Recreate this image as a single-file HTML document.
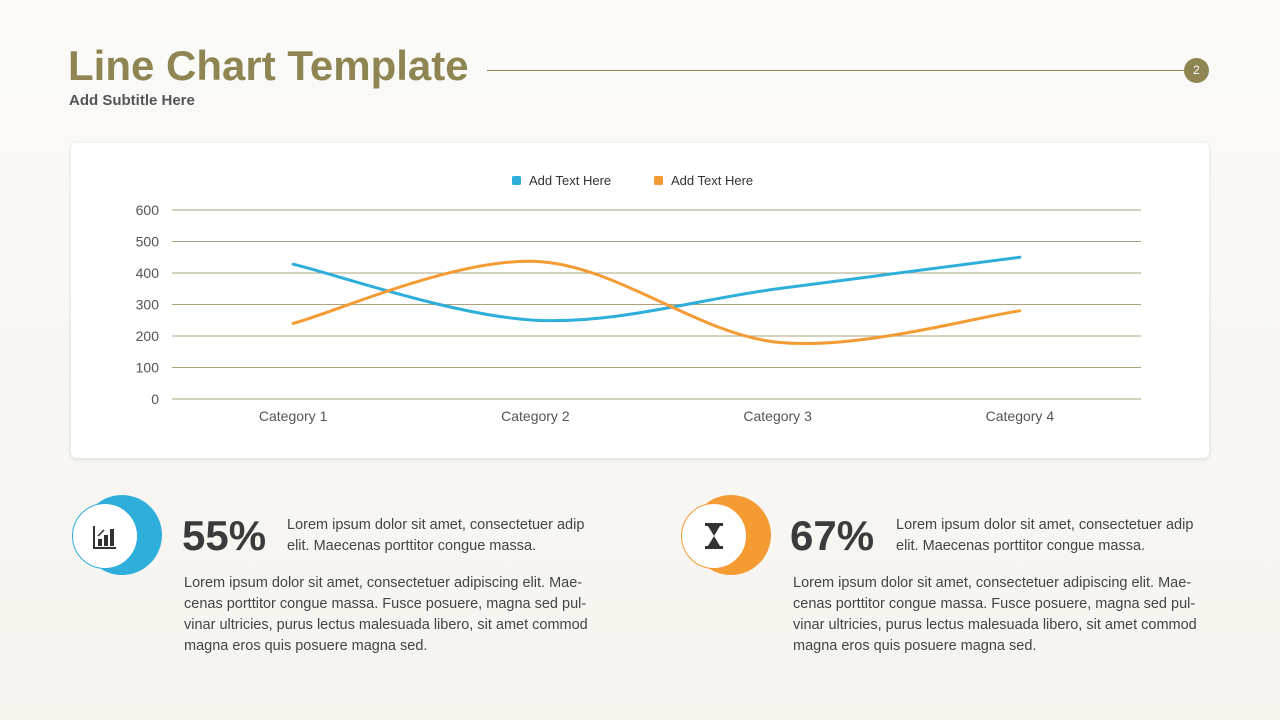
<!DOCTYPE html>
<html><head><meta charset="utf-8"><style>
body{margin:0;width:1280px;height:720px;background:linear-gradient(#fbfaf8,#f6f4ef);font-family:"Liberation Sans",sans-serif;position:relative;overflow:hidden}
.abs{position:absolute}
.title{left:68px;top:42px;font-size:42px;font-weight:bold;color:#8e8553;letter-spacing:0}
.sub{left:69px;top:92px;font-size:15px;font-weight:bold;color:#555}
.card{left:71px;top:143px;width:1138px;height:315px;background:#fff;border-radius:6px;box-shadow:0 1px 4px rgba(0,0,0,0.12)}
.pct{font-size:42px;font-weight:bold;color:#3b3b3b}
.t{font-size:14.5px;color:#444;line-height:21px}
</style></head><body>
<div class="abs title">Line Chart Template</div>
<div class="abs sub">Add Subtitle Here</div>
<div class="abs" style="left:487px;top:70px;width:700px;height:1px;background:#8e8553"></div>
<div class="abs" style="left:1184px;top:58px;width:25px;height:25px;border-radius:50%;background:#8e8553;color:#fff;font-size:12px;text-align:center;line-height:25px">2</div>
<div class="abs card"></div>
<svg class="abs" style="left:0;top:0" width="1280" height="720" id="chart">
<g font-size="13" fill="#333">
<rect x="512" y="176" width="9" height="9" rx="1.5" fill="#2eaedb"/>
<text x="529" y="185">Add Text Here</text>
<rect x="654" y="176" width="9" height="9" rx="1.5" fill="#f59b33"/>
<text x="671" y="185">Add Text Here</text>
</g>
</svg>
<script>
const categories=["Category 1","Category 2","Category 3","Category 4"];
const seriesA=[428,250,350,450];
const seriesB=[240,437,180,280];
const yTicks=[0,100,200,300,400,500,600];
const svg=document.getElementById('chart');const NS='http://www.w3.org/2000/svg';
const x0=172,x1=1141,y0=399,y1=210;
const yS=v=>y0-(v/600)*(y0-y1);
const xS=i=>x0+(x1-x0)/4*(i+0.5);
function mk(t,a){const e=document.createElementNS(NS,t);for(const k in a)e.setAttribute(k,a[k]);svg.appendChild(e);return e;}
yTicks.forEach(v=>{
 const l=mk('line',{x1:x0,x2:x1,y1:yS(v),y2:yS(v),stroke:'#8e8553','stroke-width':0.8});
 
 
 const t=mk('text',{x:159,y:yS(v)+5,'text-anchor':'end','font-size':14,fill:'#555'});t.textContent=v;
 
 
});
categories.forEach((c,i)=>{
 const t=mk('text',{x:xS(i),y:421,'text-anchor':'middle','font-size':14,fill:'#555'});t.textContent=c;
 
 
});
function path(vals){const p=vals.map((v,i)=>[xS(i),yS(v)]);let d='M'+p[0];const k=1/6;
 for(let i=0;i<p.length-1;i++){const a=p[i-1]||p[i],b=p[i],c=p[i+1],e=p[i+2]||c;
  d+=` C${b[0]+(c[0]-a[0])*k},${b[1]+(c[1]-a[1])*k} ${c[0]-(e[0]-b[0])*k},${c[1]-(e[1]-b[1])*k} ${c[0]},${c[1]}`;}return d;}
const pa=mk('path',{d:path(seriesA),fill:'none',stroke:'#2eaedb','stroke-width':3,'stroke-linecap':'round'});


const pb=mk('path',{d:path(seriesB),fill:'none',stroke:'#f59b33','stroke-width':3,'stroke-linecap':'round'});


</script>
<div class="abs" style="left:82px;top:495px;width:80px;height:80px;border-radius:50%;background:#2eaedb"></div>
<div class="abs" style="left:72px;top:503px;width:64px;height:64px;border-radius:50%;background:#fff;border:1px solid #2eaedb;text-align:center;line-height:64px;font-size:24px;color:#333">
<svg width="26" height="26" viewBox="0 0 26 26" style="vertical-align:middle"><path d="M2 2V24H24" stroke="#333" stroke-width="2" fill="none"/><rect x="6" y="15" width="4" height="7" fill="#333"/><rect x="12" y="11" width="4" height="11" fill="#333"/><rect x="18" y="5" width="4" height="17" fill="#333"/><path d="M6 12L12 6" stroke="#333" stroke-width="1.5"/></svg></div>
<div class="abs pct" style="left:182px;top:512px">55%</div>
<div class="abs t" style="left:287px;top:515px;width:320px">Lorem ipsum dolor sit amet, consectetuer adip elit. Maecenas porttitor congue massa.</div>
<div class="abs t" style="left:184px;top:573px;width:420px">Lorem ipsum dolor sit amet, consectetuer adipiscing elit. Mae-cenas porttitor congue massa. Fusce posuere, magna sed pul-vinar ultricies, purus lectus malesuada libero, sit amet commod magna eros quis posuere magna sed.</div>
<div class="abs" style="left:691px;top:495px;width:80px;height:80px;border-radius:50%;background:#f59b33"></div>
<div class="abs" style="left:681px;top:503px;width:64px;height:64px;border-radius:50%;background:#fff;border:1px solid #f59b33;text-align:center;line-height:64px">
<svg width="22" height="28" viewBox="0 0 22 28" style="vertical-align:middle"><rect x="2" y="1" width="18" height="3" fill="#333"/><rect x="2" y="24" width="18" height="3" fill="#333"/><path d="M5 4H17L11 14L17 24H5L11 14Z" fill="#333"/></svg></div>
<div class="abs pct" style="left:790px;top:512px">67%</div>
<div class="abs t" style="left:896px;top:515px;width:320px">Lorem ipsum dolor sit amet, consectetuer adip elit. Maecenas porttitor congue massa.</div>
<div class="abs t" style="left:793px;top:573px;width:420px">Lorem ipsum dolor sit amet, consectetuer adipiscing elit. Mae-cenas porttitor congue massa. Fusce posuere, magna sed pul-vinar ultricies, purus lectus malesuada libero, sit amet commod magna eros quis posuere magna sed.</div>
</body></html>
